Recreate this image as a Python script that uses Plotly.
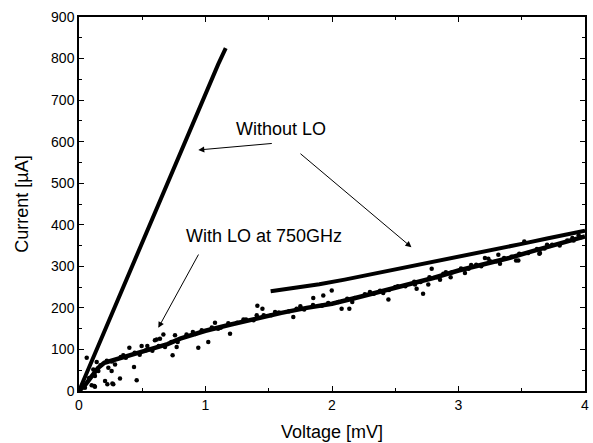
import plotly.graph_objects as go

# without LO, steep branch (mV, uA)
steep_v = [0.0, 0.05, 0.1, 0.15, 0.2, 0.3, 0.4, 0.5, 0.6, 0.7, 0.8, 0.9,
           1.0, 1.1, 1.16]
steep_i = [0, 36, 71, 107, 143, 214, 286, 358, 430, 502, 574, 646,
           716, 786, 825]

# without LO, upper branch
upper_v = [1.515, 1.7, 1.9, 2.1, 2.3, 2.5, 2.7, 2.9, 3.1, 3.3, 3.5, 3.7,
           3.9, 4.0]
upper_i = [240, 248, 257, 268, 280, 292, 304, 316, 328.5, 341, 354, 367,
           380, 386]

# with LO at 750GHz, main trend
lo_v = [0.0, 0.05, 0.1, 0.15, 0.2, 0.3, 0.4, 0.5, 0.6, 0.7, 0.8, 1.0, 1.2,
        1.4, 1.6, 1.8, 2.0, 2.2, 2.4, 2.6, 2.8, 3.0, 3.2, 3.4, 3.6, 3.8, 4.0]
lo_i = [0, 15, 35, 55, 68, 77, 85, 93, 103, 113, 126, 145, 160,
        175, 188, 200, 210, 225, 240, 256, 272, 290, 305, 320, 338, 355, 372]

# with LO, points lying close to the trend
near_v = [0.08, 0.12, 0.17, 0.22, 0.26, 0.33, 0.37, 0.44, 0.48, 0.53, 0.58,
          0.63, 0.68, 0.73, 0.78, 0.85, 0.92, 0.97, 1.05, 1.12, 1.18, 1.25,
          1.32, 1.38, 1.46, 1.52, 1.58, 1.66, 1.72, 1.78, 1.85, 1.92, 1.97,
          2.05, 2.12, 2.18, 2.26, 2.33, 2.38, 2.45, 2.52, 2.58, 2.65, 2.7,
          2.77, 2.83, 2.88, 2.95, 3.02, 3.08, 3.14, 3.18, 3.25, 3.3, 3.36,
          3.42, 3.48, 3.55, 3.62, 3.68, 3.74, 3.8, 3.86, 3.91, 3.97]
near_i = [31, 40, 62, 73, 71, 82, 80, 92, 87, 98, 97, 108, 106, 118, 118,
          136, 137, 146, 153, 152, 163, 164, 172, 170, 182, 182, 189, 192,
          198, 196, 207, 205, 212, 214, 222, 224, 233, 234, 241, 243, 252,
          252, 263, 262, 274, 274, 282, 286, 295, 294, 304, 300, 312, 312,
          320, 323, 330, 332, 342, 343, 352, 350, 362, 362, 370]

# with LO, scattered points
pts_v = [0.061, 0.14, 0.113, 0.232, 0.258, 0.285, 0.206, 0.271, 0.324, 0.456,
         0.435, 0.398, 0.495, 0.54, 0.60, 0.64, 0.667, 0.759, 0.74, 0.772,
         0.943, 1.022, 1.075, 1.194, 1.405, 1.41, 1.45, 0.1, 0.126, 0.047,
         0.264, 0.614, 0.224, 0.121, 0.126, 0.153, 1.852, 1.931, 1.694,
         2.076, 2.137, 2.16, 1.998, 2.446, 2.405, 2.788, 2.669, 2.656, 2.761,
         2.854, 2.938, 3.051, 3.209, 3.328, 3.315, 3.52, 3.639, 3.455, 2.72,
         3.473, 3.644, 3.236, 0.35, 0.55, 0.9, 1.1, 1.3, 1.55, 1.75, 2.3,
         2.5, 2.9, 3.1, 3.7, 3.9, 3.95]
pts_i = [80, 70, 52, 56, 48, 64, 24, 16, 30, 26,
         58, 104, 108, 108, 122, 126, 136, 134, 86, 106,
         104, 118, 164, 138, 182, 205, 198, 14, 10, 8,
         18, 124, 16, 12, 36, 48, 224, 230, 178,
         198, 198, 214, 242, 220, 236, 294, 246, 256, 256,
         268, 274, 284, 320, 306, 328, 360, 330, 314, 234,
         314, 332, 318, 86, 100, 142, 150, 172, 190, 204, 238,
         250, 286, 303, 352, 368, 375]

x_ticks = [0, 1, 2, 3, 4]
y_ticks = [0, 100, 200, 300, 400, 500, 600, 700, 800, 900]

font = "Liberation Sans, Arial, sans-serif"

fig = go.Figure()

fig.add_trace(go.Scatter(x=steep_v, y=steep_i, mode="lines",
                         line=dict(color="black", width=4),
                         showlegend=False))
fig.add_trace(go.Scatter(x=upper_v, y=upper_i, mode="lines",
                         line=dict(color="black", width=4),
                         showlegend=False))
fig.add_trace(go.Scatter(x=lo_v, y=lo_i, mode="lines",
                         line=dict(color="black", width=4.5),
                         showlegend=False))
fig.add_trace(go.Scatter(x=near_v, y=near_i, mode="markers",
                         marker=dict(color="black", size=4.5),
                         showlegend=False))
fig.add_trace(go.Scatter(x=pts_v, y=pts_i, mode="markers",
                         marker=dict(color="black", size=4.5),
                         showlegend=False))

# arrows: tail -> head
arrows = [
    (1.536, 596, 0.943, 580),
    (1.739, 574, 2.628, 346),
    (0.951, 332, 0.627, 152),
]
for tx, ty, hx, hy in arrows:
    fig.add_annotation(x=hx, y=hy, ax=tx, ay=ty, xref="x", yref="y",
                       axref="x", ayref="y", text="", showarrow=True,
                       arrowhead=2, arrowsize=1.2, arrowwidth=1,
                       arrowcolor="black")

fig.add_annotation(x=1.6, y=630, text="Without LO", showarrow=False,
                   font=dict(size=18, color="black", family=font))
fig.add_annotation(x=1.462, y=372, text="With LO at 750GHz", showarrow=False,
                   font=dict(size=18, color="black", family=font))

axis_style = dict(showline=True, linecolor="black", linewidth=1.5,
                  mirror="ticks", ticks="inside", ticklen=5, tickwidth=1,
                  tickcolor="black", showgrid=False, zeroline=False,
                  automargin=False,
                  tickfont=dict(size=14, color="black", family=font))

fig.update_xaxes(range=[0, 4], tickvals=x_ticks,
                 minor=dict(ticks="inside", ticklen=3, dtick=0.5,
                            tickcolor="black"),
                 title=dict(text="Voltage [mV]", standoff=14,
                            font=dict(size=18, color="black", family=font)),
                 **axis_style)
fig.update_yaxes(range=[0, 900], tickvals=y_ticks,
                 minor=dict(ticks="inside", ticklen=3, dtick=50,
                            tickcolor="black"),
                 title=dict(text="Current [µA]", standoff=18,
                            font=dict(size=18, color="black", family=font)),
                 **axis_style)

fig.update_layout(width=593, height=443,
                  margin=dict(l=79, r=8, t=17, b=52),
                  plot_bgcolor="white", paper_bgcolor="white")

# drop the default page margin so the figure sits at the window corner
fig.write_html("out.html", config={"displayModeBar": False},
               post_script="document.body.style.margin='0';")
